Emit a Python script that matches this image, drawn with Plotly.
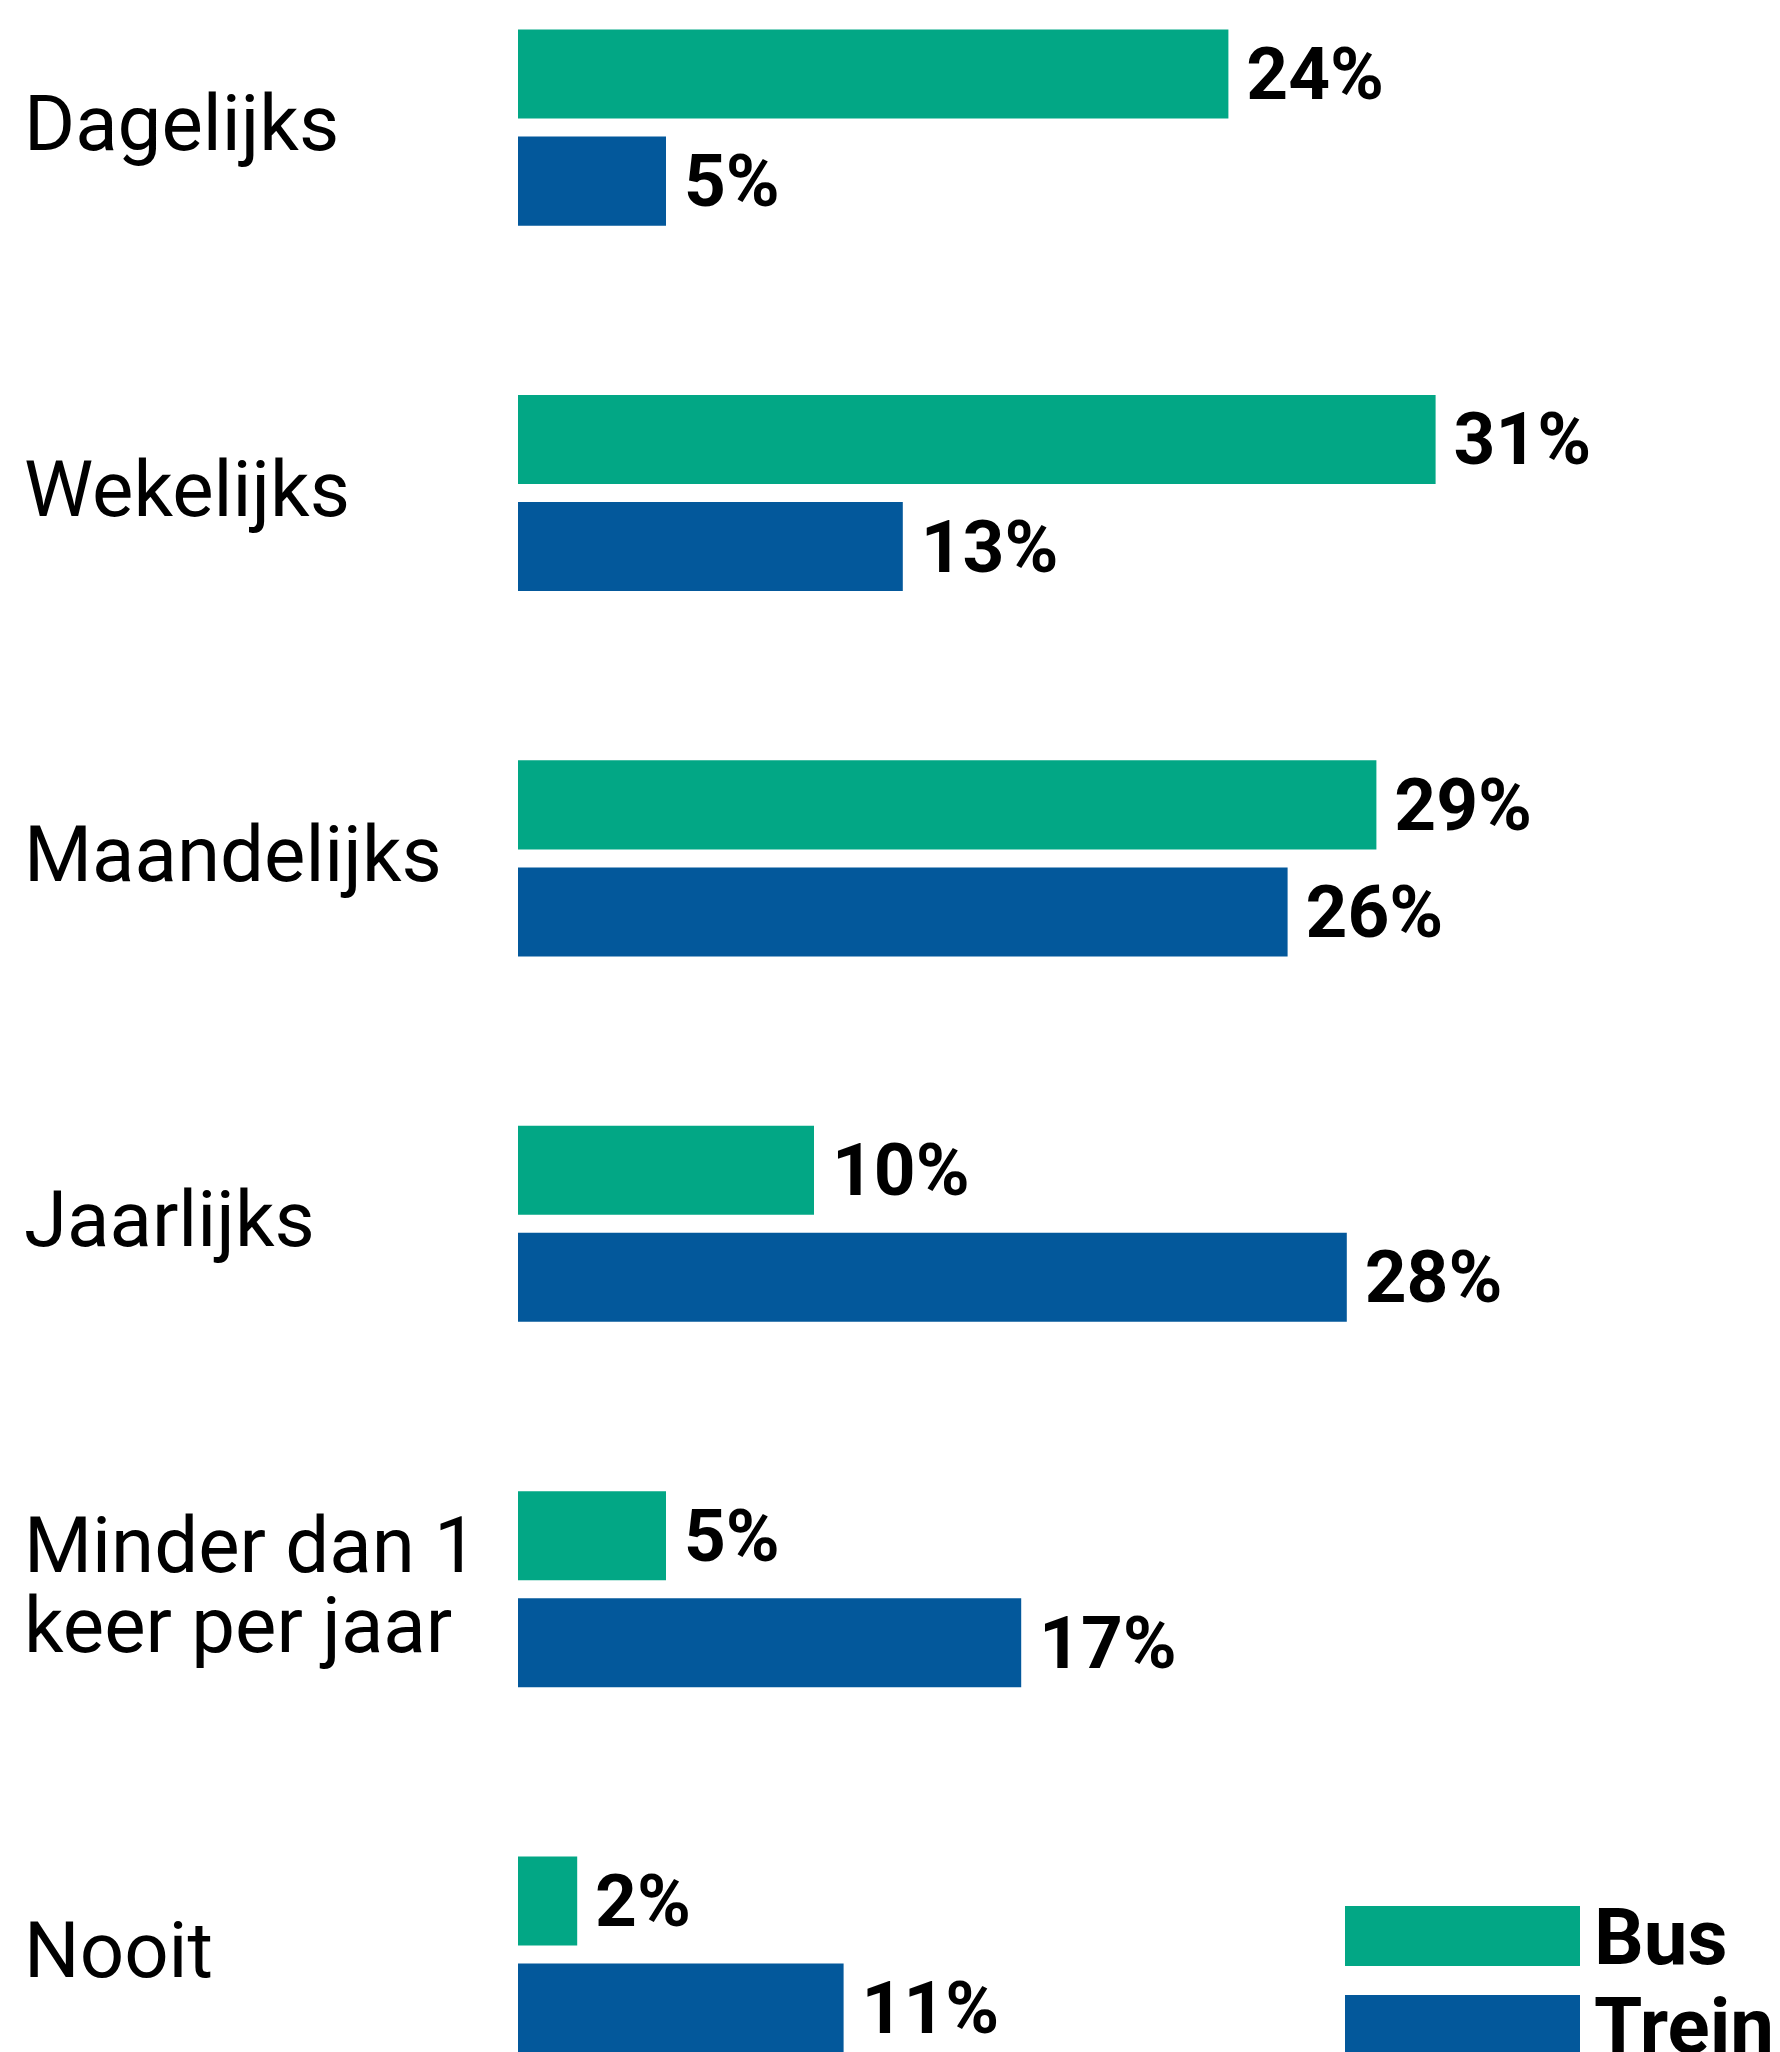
import plotly.graph_objects as go

# ---- data ----
categories = ["Dagelijks", "Wekelijks", "Maandelijks", "Jaarlijks",
              "Minder dan 1<br>keer per jaar", "Nooit"]
bus = [24, 31, 29, 10, 5, 2]
trein = [5, 13, 26, 28, 17, 11]
series_names = ["Bus", "Trein"]
series_colors = ["#02A785", "#03589B"]

# ---- layout geometry (pixels) ----
W, H = 1780, 2052
plot_left = 518
px_per_pct = 29.6
x_max = (W - plot_left) / px_per_pct
pitch = 365.4
first_center = 127.6
y_top = -first_center / pitch
y_bottom = (H - first_center) / pitch

def px_x(p):
    return (p - plot_left) / (W - plot_left)

def px_y(p):
    return 1 - p / H

label_font = dict(family="Roboto", size=78, color="black")
value_font = dict(family="Roboto", size=73, color="black", weight="bold")
legend_font = dict(family="Roboto", size=78, color="black", weight="bold")

fig = go.Figure()
for name, vals, col in zip(series_names, [bus, trein], series_colors):
    fig.add_trace(go.Bar(
        y=categories, x=vals, orientation="h", name=name,
        marker=dict(color=col, line=dict(width=0)),
        texttemplate="\u2009%{x}%", textposition="outside",
        textfont=value_font, constraintext="none", cliponaxis=False,
        hoverinfo="skip",
    ))

annotations = []
for cat in categories:
    lines = cat.split("<br>")
    n = len(lines)
    line_h = 80
    for i, ln in enumerate(lines):
        shift = ((n - 1) / 2 - i) * line_h + 4
        annotations.append(dict(
            x=px_x(22), xref="paper", xanchor="left",
            y=cat, yref="y", yanchor="middle", yshift=shift,
            text=ln, showarrow=False, font=label_font, align="left",
        ))

# legend drawn as shapes + text
legend_rows = [(1906, 1966), (1995, 2055)]
shapes = []
for (y0, y1), name, col in zip(legend_rows, series_names, series_colors):
    shapes.append(dict(type="rect", xref="paper", yref="paper",
                       x0=px_x(1345), x1=px_x(1580), y0=px_y(y1), y1=px_y(y0),
                       fillcolor=col, line=dict(width=0), layer="above"))
    annotations.append(dict(
        x=px_x(1592), xref="paper", xanchor="left",
        y=px_y((y0 + y1) / 2 + 1), yref="paper", yanchor="middle",
        text=name, showarrow=False, font=legend_font,
    ))

fig.update_layout(
    width=W, height=H,
    margin=dict(l=plot_left, r=0, t=0, b=0, pad=0),
    paper_bgcolor="white", plot_bgcolor="white",
    barmode="group", bargap=0.414, bargroupgap=0.168,
    showlegend=False,
    xaxis=dict(range=[0, x_max], showgrid=False, zeroline=False,
               showticklabels=False, showline=False, fixedrange=True),
    yaxis=dict(type="category", categoryorder="array", categoryarray=categories,
               range=[y_bottom, y_top], showgrid=False, zeroline=False,
               showticklabels=False, showline=False, ticks="", fixedrange=True),
    annotations=annotations, shapes=shapes,
)

fig.write_html("out.html", config={"displayModeBar": False},
               post_script="document.body.style.margin='0';document.body.style.overflow='hidden';")
